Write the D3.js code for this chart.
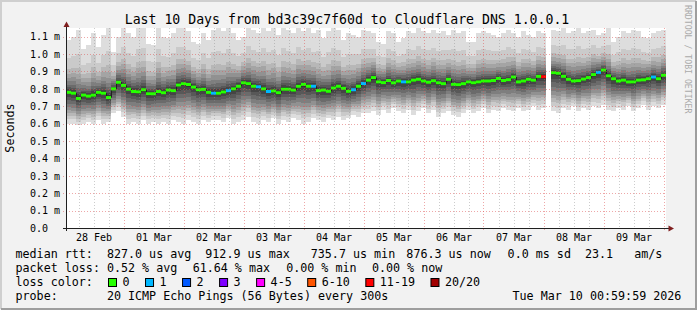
<!DOCTYPE html>
<html>
<head>
<meta charset="utf-8">
<script src="https://cdn.jsdelivr.net/npm/d3@7"></script>
<style>
body { margin: 0; background: #f2f2f2; }
svg { display: block; font-family: "DejaVu Sans Mono", monospace; }
text { white-space: pre; }
</style>
</head>
<body>
<div id="chart"></div>
<script>
// median rtt per 2h column, in ms (null = no data)
var median = [
  0.78,0.775,0.745,0.764,0.758,0.764,0.78,0.775,0.75,0.80,
  0.838,0.82,0.798,0.785,0.783,0.795,0.772,0.772,0.785,0.778,
  0.793,0.79,0.822,0.83,0.825,0.81,0.795,0.797,0.78,0.775,
  0.775,0.782,0.79,0.80,0.815,0.835,0.83,0.815,0.812,0.80,
  0.785,0.788,0.778,0.798,0.798,0.793,0.815,0.826,0.815,0.815,
  0.79,0.793,0.786,0.805,0.815,0.803,0.786,0.795,0.815,0.831,
  0.85,0.865,0.84,0.836,0.848,0.835,0.845,0.84,0.84,0.85,
  0.855,0.845,0.838,0.847,0.835,0.83,0.855,0.826,0.824,0.83,
  0.84,0.835,0.84,0.845,0.845,0.848,0.86,0.848,0.853,0.868,
  0.84,0.845,0.855,0.85,0.872,0.87,null,0.893,0.89,0.872,
  0.855,0.845,0.847,0.856,0.865,0.882,0.895,0.908,0.875,0.858,
  0.845,0.85,0.84,0.84,0.85,0.852,0.858,0.868,0.858,0.878
];
// slowest ping per column (top of the smoke), ms
var smokeHi = [
  1.08,1.10,1.14,1.03,1.05,1.12,1.04,1.11,1.16,1.01,
  1.10,1.16,1.12,1.10,1.16,1.16,1.06,1.05,1.16,1.10,
  1.09,1.12,1.16,1.15,1.13,1.07,1.06,1.12,1.08,1.14,
  1.15,1.13,1.16,1.12,1.08,1.10,1.16,1.14,1.12,1.16,
  1.13,1.15,1.11,1.16,1.14,1.12,1.16,1.13,1.15,1.12,
  1.14,1.09,1.13,1.16,1.14,1.08,1.12,1.11,1.10,1.14,
  1.13,1.12,1.07,1.06,1.13,1.12,1.07,1.09,1.13,1.12,
  1.15,1.13,1.12,1.14,1.12,1.13,1.11,1.14,1.12,1.13,
  1.07,1.07,1.12,1.13,1.12,1.11,1.10,1.12,1.14,1.12,
  1.10,1.13,1.11,1.10,1.13,1.12,null,1.14,1.13,1.15,
  1.12,1.13,1.15,1.12,1.13,1.14,1.11,1.12,1.15,1.07,
  1.10,1.13,1.12,1.14,1.13,1.10,1.09,1.12,1.13,1.14
];
// fastest ping per column (bottom of the smoke), ms
var smokeLo = [
  0.60,0.60,0.59,0.60,0.61,0.60,0.62,0.60,0.61,0.66,
  0.67,0.64,0.60,0.61,0.60,0.62,0.60,0.61,0.60,0.61,
  0.60,0.62,0.61,0.60,0.62,0.61,0.60,0.62,0.61,0.62,
  0.62,0.61,0.63,0.60,0.61,0.62,0.64,0.61,0.60,0.62,
  0.61,0.63,0.60,0.62,0.61,0.63,0.62,0.60,0.61,0.63,
  0.62,0.61,0.63,0.62,0.64,0.62,0.63,0.65,0.64,0.66,
  0.66,0.67,0.65,0.68,0.66,0.69,0.67,0.66,0.68,0.65,
  0.67,0.69,0.66,0.68,0.64,0.66,0.67,0.65,0.64,0.66,
  0.68,0.66,0.67,0.69,0.66,0.68,0.67,0.69,0.68,0.67,
  0.69,0.67,0.68,0.70,0.68,0.69,null,0.67,0.66,0.69,
  0.68,0.70,0.67,0.69,0.68,0.70,0.69,0.71,0.68,0.67,
  0.69,0.68,0.70,0.67,0.69,0.71,0.68,0.70,0.69,0.71
];
// lost pings (of 20) per column
var lossPings = [
  0,0,0,0,0,0,0,0,0,0,
  0,0,0,0,0,0,0,0,0,0,
  0,0,0,0,0,0,0,0,0,1,
  0,0,1,0,0,0,0,0,1,0,
  1,0,0,0,0,0,0,0,0,1,
  0,0,0,0,0,0,0,1,0,1,
  0,0,0,0,0,0,0,1,0,0,
  0,0,0,0,0,0,0,0,0,0,
  0,0,0,0,0,0,0,0,0,0,
  0,0,0,0,0,12,null,0,0,0,
  0,0,0,0,0,0,1,0,0,0,
  0,0,0,0,0,0,0,1,0,0
];
// typical spread of the sorted pings, as share of (hi - median) / (median - lo), inner to outer
var shapeUp = [0.03, 0.06, 0.1, 0.15, 0.21, 0.28, 0.36, 0.45, 0.65, 1];
var shapeDown = [0.06, 0.15, 0.25, 0.36, 0.47, 0.57, 0.66, 0.75, 0.86, 1];

var yTicks = [0, 0.1, 0.2, 0.3, 0.4, 0.5, 0.6, 0.7, 0.8, 0.9, 1.0, 1.1];
var lossLabels = ["0", "1", "2", "3", "4-5", "6-10", "11-19", "20/20"];
var lossMax = [0, 1, 2, 3, 5, 10, 19, 20];
var lossColors = ["#26ff00", "#00b8ff", "#0059ff", "#7e00ff", "#ff00ff", "#ff5500", "#ff0000", "#a10000"];
var rttStats = ["827.0 us avg", "912.9 us max", "735.7 us min", "876.3 us now", "0.0 ms sd", "23.1", "am/s"];
var lossStats = ["0.52 % avg", "61.64 % max", "0.00 % min", "0.00 % now"];

var width = 697, height = 310;
var start = new Date(Date.UTC(2026, 1, 28, 1)),
  end = d3.utcHour.offset(start, 240);

var svg = d3.select("#chart").append("svg")
  .attr("width", width)
  .attr("height", height);

// frame
svg.append("rect").attr("width", width).attr("height", height).attr("fill", "#f2f2f2");
svg.append("path").attr("d", "M1,309V1H696").attr("fill", "none").attr("stroke", "#cfcfcf").attr("stroke-width", 2);
svg.append("path").attr("d", "M1,309H696V1").attr("fill", "none").attr("stroke", "#9e9e9e").attr("stroke-width", 2);

var x = d3.scaleTime().domain([start, end]).range([66, 666]);
var y = d3.scaleLinear().domain([0, 1.15]).range([228, 28]);

svg.append("rect").attr("x", 66).attr("y", 28).attr("width", 600).attr("height", 200).attr("fill", "#fff");

svg.append("clipPath").attr("id", "clip")
  .append("rect").attr("x", 66).attr("y", 28).attr("width", 600).attr("height", 200);

var cols = median.map(function(m, i) {
  return { t0: d3.utcHour.offset(start, 2 * i), t1: d3.utcHour.offset(start, 2 * i + 2),
    med: m, hi: smokeHi[i], lo: smokeLo[i], loss: lossPings[i] };
}).filter(function(d) { return d.med != null; });

var plot = svg.append("g").attr("clip-path", "url(#clip)");

// smoke: ring 0 is outermost (ping1..ping20), ring 9 innermost
var rings = d3.range(10);
plot.selectAll(".col")
  .data(cols)
  .enter().append("g")
  .attr("class", "col")
  .selectAll("rect")
  .data(function(d) { return rings.map(function(r) { return { d: d, r: r }; }); })
  .enter().append("rect")
  .attr("shape-rendering", "crispEdges")
  .attr("x", function(e) { return x(e.d.t0); })
  .attr("width", function(e) { return x(e.d.t1) - x(e.d.t0); })
  .attr("y", function(e) { return y(e.d.med + shapeUp[9 - e.r] * (e.d.hi - e.d.med)); })
  .attr("height", function(e) {
    return y(e.d.med - shapeDown[9 - e.r] * (e.d.med - e.d.lo)) - y(e.d.med + shapeUp[9 - e.r] * (e.d.hi - e.d.med));
  })
  .attr("fill", function(e) {
    var g = Math.floor(190 / 10 * (9 - e.r)) + 50;
    return d3.rgb(g, g, g);
  });

// grid
var grid = svg.append("g").attr("shape-rendering", "crispEdges");
grid.selectAll(".vmin")
  .data(d3.utcHour.every(6).range(start, end).filter(function(d) { return d.getUTCHours() != 0; }))
  .enter().append("line")
  .attr("x1", function(d) { return Math.round(x(d)) + 0.5; })
  .attr("x2", function(d) { return Math.round(x(d)) + 0.5; })
  .attr("y1", 28).attr("y2", 228)
  .attr("stroke", "rgba(143,143,143,0.45)")
  .attr("stroke-dasharray", "1,2");
grid.selectAll(".vmaj")
  .data(d3.utcDay.range(start, end))
  .enter().append("line")
  .attr("x1", function(d) { return Math.round(x(d)) + 0.5; })
  .attr("x2", function(d) { return Math.round(x(d)) + 0.5; })
  .attr("y1", 28).attr("y2", 231)
  .attr("stroke", "rgba(222,79,79,0.5)")
  .attr("stroke-dasharray", "1,2");
grid.selectAll(".hmaj")
  .data(yTicks.slice(1))
  .enter().append("line")
  .attr("x1", 63).attr("x2", 666)
  .attr("y1", function(d) { return Math.round(y(d)) + 0.5; })
  .attr("y2", function(d) { return Math.round(y(d)) + 0.5; })
  .attr("stroke", "rgba(222,79,79,0.5)")
  .attr("stroke-dasharray", "1,2");

// median: dark connectors, then loss-coloured segments
var segs = [];
cols.forEach(function(d, i) {
  var prev = i > 0 ? cols[i - 1] : null;
  if (prev && +prev.t1 == +d.t0) segs.push([[x(d.t0) + 0.5, y(prev.med)], [x(d.t0) + 0.5, y(d.med)]]);
});
plot.selectAll(".conn")
  .data(segs)
  .enter().append("path")
  .attr("d", function(s) { return d3.line()(s); })
  .attr("stroke", "#202020")
  .attr("fill", "none");

function lossColor(l) {
  for (var i = 0; i < lossMax.length; i++) if (l <= lossMax[i]) return lossColors[i];
  return lossColors[lossColors.length - 1];
}
plot.selectAll(".med")
  .data(cols)
  .enter().append("line")
  .attr("x1", function(d) { return x(d.t0); })
  .attr("x2", function(d) { return x(d.t1); })
  .attr("y1", function(d) { return y(d.med); })
  .attr("y2", function(d) { return y(d.med); })
  .attr("stroke", function(d) { return lossColor(d.loss); })
  .attr("stroke-width", 3);

// axes
var xAxis = d3.axisBottom(x)
  .tickValues(d3.utcDay.range(d3.utcDay.floor(start), end)
    .map(function(d) { return d3.utcHour.offset(d, 12); })
    .filter(function(d) { return d < end; }))
  .tickFormat(d3.utcFormat("%d %b"))
  .tickSize(0)
  .tickPadding(6);
var gx = svg.append("g").attr("transform", "translate(0,228)").call(xAxis);
gx.select(".domain").remove();
gx.selectAll("text").attr("font-size", 10).attr("font-family", "DejaVu Sans Mono").attr("fill", "#000");

var yAxis = d3.axisLeft(y)
  .tickValues(yTicks)
  .tickFormat(function(d) { return d == 0 ? "0.0" : d.toFixed(1) + " m"; })
  .tickSize(0);
var gy = svg.append("g").attr("transform", "translate(66,0)").call(yAxis);
gy.select(".domain").remove();
gy.selectAll("text")
  .attr("text-anchor", "start")
  .attr("x", -36)
  .attr("font-size", 10).attr("font-family", "DejaVu Sans Mono").attr("fill", "#000");

svg.append("line").attr("x1", 63).attr("x2", 669).attr("y1", 228.5).attr("y2", 228.5)
  .attr("stroke", "#1f1f1f").attr("shape-rendering", "crispEdges");
svg.append("line").attr("x1", 66.5).attr("x2", 66.5).attr("y1", 231).attr("y2", 24)
  .attr("stroke", "#1f1f1f").attr("shape-rendering", "crispEdges");
svg.append("path").attr("d", "M63.5,27L69.5,27L66.5,21.5Z").attr("fill", "#801f1f");
svg.append("path").attr("d", "M668.5,225.5L668.5,231.5L674,228.5Z").attr("fill", "#801f1f");

// titles
svg.append("text").attr("x", 347).attr("y", 24).attr("text-anchor", "middle")
  .attr("font-size", 13.2)
  .text("Last 10 Days from bd3c39c7f60d to Cloudflare DNS 1.0.0.1");
svg.append("text").attr("transform", "translate(13.5,128) rotate(-90)").attr("text-anchor", "middle")
  .attr("font-size", 11.7)
  .text("Seconds");
svg.append("text").attr("transform", "translate(685,5) rotate(90)")
  .attr("font-size", 8.2).attr("fill", "#aaaaaa")
  .text("RRDTOOL / TOBI OETIKER");

// legend
var cw = 7.03, lx = 15.5;
var legend = svg.append("g").attr("font-size", 11.7).attr("fill", "#000");
function put(px, py, s) { legend.append("text").attr("x", px).attr("y", py).text(s); }

put(lx, 258, "median rtt:");
[13, 27, 42, 55.6, 70, 81, 88].forEach(function(c, i) { put(lx + c * cw, 258, rttStats[i]); });
put(lx, 272, "packet loss:");
[13, 25.2, 38.5, 50.7].forEach(function(c, i) { put(lx + c * cw, 272, lossStats[i]); });
put(lx, 286, "loss color:");
var bx = 108;
lossLabels.forEach(function(l, i) {
  legend.append("rect").attr("x", bx + 0.5).attr("y", 278.5).attr("width", 8).attr("height", 8)
    .attr("fill", lossColors[i]).attr("stroke", "#000");
  put(bx + 14.5, 286, l);
  bx += 30 + cw * l.length;
});
put(lx, 300, "probe:");
put(lx + 13 * cw, 300, "20 ICMP Echo Pings (56 Bytes) every 300s");
put(lx + 70.7 * cw, 300, "Tue Mar 10 00:59:59 2026");
</script>
</body>
</html>
